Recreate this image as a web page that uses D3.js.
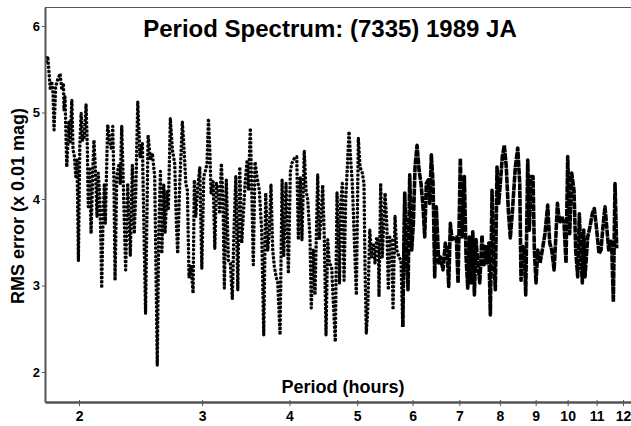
<!DOCTYPE html>
<html>
<head>
<meta charset="utf-8">
<script src="https://cdn.jsdelivr.net/npm/d3@7"></script>
<style>
  body { margin: 0; background: #fff; }
  svg { display: block; font-family: "Liberation Sans", Arial, sans-serif; }
</style>
</head>
<body>
<div id="chart"></div>
<script>
"use strict";
// [period (hours), RMS error (x 0.01 mag)]
const spectrum = [
  [1.794,5.57],[1.804,5.65],[1.812,5.46],[1.820,5.26],[1.828,5.36],[1.836,5.22],[1.842,4.80],[1.852,5.30],
  [1.864,5.38],[1.879,5.45],[1.890,5.26],[1.900,5.32],[1.904,5.03],[1.910,5.18],[1.921,4.37],[1.935,4.89],
  [1.942,4.64],[1.953,5.14],[1.961,4.57],[1.970,4.49],[1.979,4.26],[1.987,4.45],[1.996,3.29],[2.005,4.60],
  [2.014,4.99],[2.024,4.68],[2.035,4.72],[2.047,5.09],[2.056,4.57],[2.062,3.91],[2.072,4.37],[2.081,3.60],
  [2.093,4.34],[2.101,4.68],[2.113,4.26],[2.122,3.80],[2.131,4.30],[2.141,4.03],[2.150,3.49],[2.155,2.97],
  [2.165,3.80],[2.174,4.18],[2.181,3.72],[2.198,4.86],[2.215,4.64],[2.227,4.57],[2.235,4.84],[2.244,4.18],
  [2.252,3.06],[2.265,4.26],[2.282,4.41],[2.291,4.18],[2.302,4.84],[2.314,4.18],[2.332,3.18],[2.348,4.18],
  [2.358,3.80],[2.368,3.35],[2.384,4.39],[2.399,3.60],[2.411,4.07],[2.427,5.12],[2.445,4.49],[2.464,4.64],
  [2.490,2.68],[2.511,4.74],[2.530,4.45],[2.546,4.53],[2.566,4.26],[2.575,3.41],[2.588,2.08],[2.600,3.56],
  [2.615,4.32],[2.627,3.37],[2.644,4.16],[2.655,3.60],[2.673,4.10],[2.684,3.87],[2.702,4.93],[2.720,4.57],
  [2.741,4.41],[2.756,3.72],[2.768,3.37],[2.787,4.18],[2.811,4.89],[2.827,4.57],[2.843,4.18],[2.858,4.10],
  [2.873,3.10],[2.893,3.22],[2.912,2.91],[2.924,4.22],[2.938,3.80],[2.957,4.14],[2.977,4.36],[2.997,3.20],
  [3.016,4.26],[3.036,4.34],[3.049,4.41],[3.063,4.93],[3.077,4.57],[3.090,4.07],[3.111,4.20],[3.128,3.43],
  [3.145,4.18],[3.165,4.10],[3.179,3.83],[3.196,4.41],[3.214,3.99],[3.228,2.97],[3.249,4.22],[3.271,3.29],
  [3.292,3.26],[3.314,2.85],[3.333,3.68],[3.352,4.26],[3.374,2.95],[3.396,4.37],[3.418,3.49],[3.456,4.18],
  [3.479,4.45],[3.494,4.10],[3.516,4.82],[3.533,4.10],[3.551,3.24],[3.571,4.43],[3.594,4.26],[3.622,4.10],
  [3.650,3.64],[3.675,2.43],[3.699,4.07],[3.724,3.41],[3.743,3.62],[3.764,4.16],[3.785,3.41],[3.806,3.22],
  [3.828,3.10],[3.849,3.03],[3.878,2.43],[3.904,4.22],[3.925,3.33],[3.955,4.18],[3.986,3.14],[4.012,4.32],
  [4.030,4.41],[4.065,4.47],[4.097,4.49],[4.119,3.53],[4.145,4.26],[4.168,3.53],[4.200,4.55],[4.224,4.10],
  [4.248,3.99],[4.280,3.55],[4.298,2.74],[4.327,3.41],[4.351,2.89],[4.390,4.28],[4.413,3.53],[4.442,3.83],
  [4.463,4.16],[4.486,3.56],[4.512,2.43],[4.537,3.53],[4.561,3.26],[4.596,3.22],[4.627,2.72],[4.652,2.35],
  [4.678,4.07],[4.709,3.41],[4.717,3.03],[4.736,3.95],[4.761,4.18],[4.788,3.06],[4.814,3.99],[4.840,4.37],
  [4.867,4.78],[4.894,4.45],[4.920,4.18],[4.959,3.41],[4.986,2.89],[5.019,4.70],[5.047,4.37],[5.085,4.30],
  [5.113,4.18],[5.130,3.22],[5.152,2.45],[5.176,2.72],[5.211,3.64],[5.245,3.33],[5.273,3.49],[5.302,3.26],
  [5.332,3.56],[5.360,3.49],[5.372,2.87],[5.402,4.18],[5.430,3.33],[5.480,4.07],[5.511,3.72],[5.540,2.95],
  [5.565,3.56],[5.602,3.53],[5.626,2.72],[5.663,3.80],[5.695,3.41],[5.738,3.33],[5.776,3.29],[5.809,2.52],
  [5.847,4.07],[5.878,3.41],[5.911,2.95],[5.944,4.28],[5.983,3.41],[6.016,3.72],[6.049,4.37],[6.089,4.62],
  [6.129,4.34],[6.169,4.18],[6.210,3.91],[6.245,3.56],[6.278,4.18],[6.319,4.22],[6.348,3.95],[6.383,4.51],
  [6.419,4.18],[6.454,3.10],[6.488,3.91],[6.540,3.26],[6.575,3.33],[6.633,3.18],[6.684,3.49],[6.721,3.41],
  [6.759,2.99],[6.795,3.72],[6.833,3.53],[6.886,3.55],[6.931,3.56],[6.970,3.03],[7.022,4.47],[7.062,3.56],
  [7.116,4.26],[7.156,3.33],[7.196,2.97],[7.234,3.56],[7.274,3.03],[7.316,3.62],[7.355,2.89],[7.395,3.53],
  [7.437,3.26],[7.486,3.03],[7.542,3.58],[7.585,3.22],[7.625,3.45],[7.668,3.26],[7.711,3.49],[7.752,2.66],
  [7.795,4.10],[7.839,3.33],[7.880,2.95],[7.924,4.37],[7.969,3.95],[8.011,4.18],[8.064,4.49],[8.117,4.62],
  [8.170,4.37],[8.225,3.87],[8.279,3.55],[8.345,3.91],[8.417,4.37],[8.484,4.59],[8.540,4.18],[8.576,3.06],
  [8.625,3.45],[8.670,3.41],[8.710,2.89],[8.768,4.45],[8.814,3.64],[8.863,4.26],[8.922,4.26],[8.961,3.41],
  [9.011,3.03],[9.062,3.41],[9.130,3.26],[9.199,3.41],[9.281,3.60],[9.364,3.93],[9.427,3.49],[9.490,3.41],
  [9.563,3.18],[9.618,3.56],[9.669,3.95],[9.733,3.72],[9.808,3.80],[9.881,3.72],[9.946,3.26],[10.002,4.49],
  [10.068,3.60],[10.135,4.30],[10.211,4.10],[10.269,3.41],[10.337,3.10],[10.392,3.83],[10.449,3.33],[10.495,3.03],
  [10.543,3.64],[10.588,3.10],[10.683,3.56],[10.764,3.68],[10.846,3.83],[10.918,3.89],[11.004,3.64],[11.088,3.37],
  [11.161,3.41],[11.246,3.72],[11.309,3.91],[11.384,3.64],[11.448,3.41],[11.509,3.53],[11.562,3.45],[11.624,2.81],
  [11.688,4.18],[11.753,3.43]
];
const periodTicks = [2, 3, 4, 5, 6, 7, 8, 9, 10, 11, 12];
const rmsTicks = [2, 3, 4, 5, 6];
const periodDomain = [1.788, 12.32];
const rmsDomain = [1.653, 6.22];
// past this period the sampled points merge into a solid trace
const denseFrom = 5.8;

const W = 631, H = 426;
const margin = { top: 7, right: 0, bottom: 24, left: 45 };

const svg = d3.select("#chart").append("svg")
    .attr("width", W)
    .attr("height", H);

const x = d3.scaleLog().domain(periodDomain).range([margin.left, W - margin.right]);
const y = d3.scaleLinear().domain(rmsDomain).range([H - margin.bottom, margin.top]);

svg.append("defs").append("clipPath").attr("id", "plot-clip")
  .append("rect")
    .attr("x", margin.left).attr("y", margin.top)
    .attr("width", W - margin.left - margin.right)
    .attr("height", H - margin.top - margin.bottom);

// top frame line
svg.append("line")
    .attr("x1", margin.left).attr("x2", W)
    .attr("y1", margin.top + 0.5).attr("y2", margin.top + 0.5)
    .attr("stroke", "#555").attr("stroke-width", 1);

const line = d3.line().x(d => x(d[0])).y(d => y(d[1]));
const sparse = spectrum.filter(d => d[0] <= denseFrom + 0.05);
const dense = spectrum.filter(d => d[0] >= denseFrom);

const plot = svg.append("g").attr("clip-path", "url(#plot-clip)");
plot.append("path")
    .datum(spectrum)
    .attr("d", line)
    .attr("fill", "none")
    .attr("stroke", "#8a8a8a")
    .attr("stroke-width", 1);
plot.append("path")
    .datum(sparse)
    .attr("d", line)
    .attr("fill", "none")
    .attr("stroke", "#000")
    .attr("stroke-width", 3.2)
    .attr("stroke-dasharray", "2.8,1.4")
    .attr("stroke-linejoin", "round");
plot.append("path")
    .datum(dense)
    .attr("d", line)
    .attr("fill", "none")
    .attr("stroke", "#000")
    .attr("stroke-width", 3.6)
    .attr("stroke-dasharray", "7,0.8")
    .attr("stroke-linejoin", "round");

// axes
const xAxis = d3.axisBottom(x)
    .tickValues(periodTicks)
    .tickFormat(d3.format("d"))
    .tickSizeInner(4)
    .tickSizeOuter(0)
    .tickPadding(5);
const gx = svg.append("g")
    .attr("transform", `translate(0,${H - margin.bottom})`)
    .call(xAxis);
gx.select(".domain").attr("stroke", "#555").attr("stroke-width", 2.5);
gx.selectAll(".tick line").attr("stroke", "#555").attr("y1", -2);
gx.selectAll(".tick text")
    .attr("fill", "#000")
    .style("font-size", "14px")
    .style("font-weight", "bold");

const yAxis = d3.axisLeft(y)
    .tickValues(rmsTicks)
    .tickFormat(d3.format("d"))
    .tickSizeInner(3)
    .tickSizeOuter(0)
    .tickPadding(2);
const gy = svg.append("g")
    .attr("transform", `translate(${margin.left},0)`)
    .call(yAxis);
gy.select(".domain").attr("stroke", "#555").attr("stroke-width", 2);
gy.selectAll(".tick line").attr("stroke", "#555");
gy.selectAll(".tick text")
    .attr("fill", "#000")
    .style("font-size", "13px")
    .style("font-weight", "bold");

// titles
svg.append("text")
    .attr("x", 330).attr("y", 37)
    .attr("text-anchor", "middle")
    .style("font-size", "24px")
    .style("font-weight", "bold")
    .text("Period Spectrum: (7335) 1989 JA");

svg.append("text")
    .attr("x", 343).attr("y", 393)
    .attr("text-anchor", "middle")
    .style("font-size", "18px")
    .style("font-weight", "bold")
    .text("Period (hours)");

svg.append("text")
    .attr("transform", "translate(24,206) rotate(-90)")
    .attr("text-anchor", "middle")
    .style("font-size", "18px")
    .style("font-weight", "bold")
    .text("RMS error (x 0.01 mag)");
</script>
</body>
</html>
